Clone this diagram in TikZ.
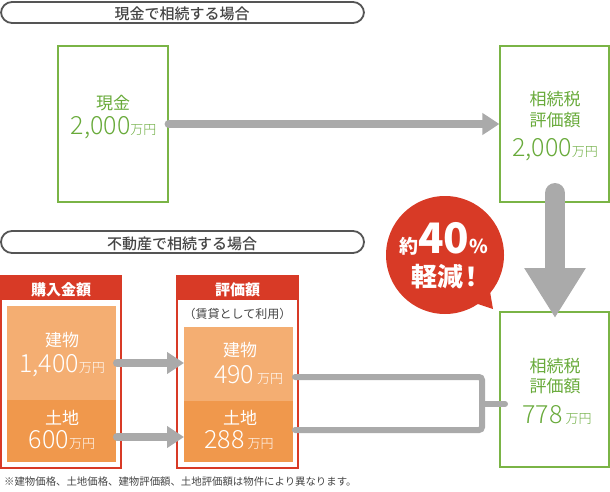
\documentclass[tikz,border=0pt]{standalone}
\usepackage{fontspec}
\setmainfont{Noto Sans CJK JP}
\IfFontExistsTF{Noto Sans CJK JP Light}{\newfontfamily\numfont{Noto Sans CJK JP Light}}{\newfontfamily\numfont{Noto Sans CJK JP}}
\IfFontExistsTF{Noto Sans CJK JP Medium}{\newfontfamily\medfont{Noto Sans CJK JP Medium}}{\newfontfamily\medfont{Noto Sans CJK JP}}
\usetikzlibrary{arrows.meta,calc}
\definecolor{grnline}{RGB}{122,180,70}
\definecolor{grntxt}{RGB}{104,170,58}
\definecolor{arrgray}{RGB}{170,170,170}
\definecolor{redc}{RGB}{216,58,38}
\definecolor{orlight}{RGB}{244,174,114}
\definecolor{ordark}{RGB}{240,152,76}
\definecolor{pillc}{RGB}{85,85,85}
\definecolor{txtgray}{RGB}{68,68,68}
\newcommand{\amt}[3]{{\numfont\fontsize{#1}{#1}\selectfont #2\fontsize{13}{13}\selectfont #3万円}}
\begin{document}
\begin{tikzpicture}[x=1pt,y=-1pt,
  pill/.style={draw=pillc,line width=1.8pt,rounded corners=11pt},
  pilltext/.style={text=txtgray,anchor=base,inner sep=0pt,font=\medfont\fontsize{15}{15}\selectfont},
  gbox/.style={draw=grnline,line width=1.2pt,inner sep=0pt},
  gtext/.style={text=grntxt,inner sep=0pt,anchor=base},
  wtext/.style={text=white,inner sep=0pt,anchor=base},
  amtnode/.style={text height=18pt,text depth=1pt},
  harrow/.style={draw=arrgray,line width=8pt,-{Triangle[length=17pt,width=21pt]}},
  link/.style={draw=arrgray,line width=6pt,line cap=round,rounded corners=3pt},
  frame/.style={draw=redc,line width=2pt},
  lbl/.style={font=\fontsize{17}{17}\selectfont},
  hdr/.style={font=\bfseries\fontsize{15}{15}\selectfont},
]
\useasboundingbox (0,0) rectangle (610,492);

% pills
\draw[pill] (1,2) rectangle (364,23);
\node[pilltext] (p1) at (182,19.5) {現金で相続する場合};
\draw[pill] (1,231) rectangle (364,253);
\node[pilltext] (p2) at (182,249) {不動産で相続する場合};

% top boxes
\node[gbox,minimum width=110pt,minimum height=156pt] (cash) at (113,124) {};
\node[gtext,lbl] (cashl) at (113,110) {現金};
\node[gtext,amtnode] (cashv) at (113.5,135) {\amt{25}{2,000}{}};

\node[gbox,minimum width=109pt,minimum height=156pt] (tax1) at (554.5,124) {};
\node[gtext,lbl] (t1a) at (555,106) {相続税};
\node[gtext,lbl] (t1b) at (555,127) {評価額};
\node[gtext,amtnode] (t1v) at (555,157) {\amt{25}{2,000}{}};

\node[gbox,minimum width=109pt,minimum height=155pt] (tax2) at (554.5,389.5) {};
\node[gtext,lbl] (t2a) at (555,372) {相続税};
\node[gtext,lbl] (t2b) at (555,392) {評価額};
\node[gtext,amtnode] (t2v) at (557,423) {\amt{25}{778}{\ }};

% top arrow
\draw[harrow,line cap=round] (cash.east) -- (tax1.west);

% left frame
\node[frame,minimum width=120pt,minimum height=192pt,inner sep=0pt] (buy) at (61,372) {};
\fill[redc] (1,276) rectangle (121,300);
\node[wtext,hdr] (buyh) at (61,295) {購入金額};
\fill[orlight] (7,306) rectangle (116,400);
\fill[ordark] (7,400) rectangle (116,462);
\node[wtext,lbl] (b1) at (62,346) {建物};
\node[wtext,amtnode] (b1v) at (62,372) {\amt{25}{1,400}{}};
\node[wtext,lbl] (l1) at (62,424) {土地};
\node[wtext,amtnode] (l1v) at (62,448) {\amt{25}{600}{}};

% middle frame
\node[frame,minimum width=121pt,minimum height=192pt,inner sep=0pt] (ev) at (237.5,372) {};
\fill[redc] (177,276) rectangle (298,300);
\node[wtext,hdr] (evh) at (237.5,295) {評価額};
\node[text=txtgray,inner sep=0pt,anchor=base,font=\fontsize{12}{12}\selectfont] (rent) at (237.5,318.5) {（賃貸として利用）};
\fill[orlight] (184,327) rectangle (293,401);
\fill[ordark] (184,401) rectangle (293,462);
\node[wtext,lbl] (b2) at (240,356) {建物};
\node[wtext,amtnode] (b2v) at (248.5,383) {\amt{25}{490}{\ }};
\node[wtext,lbl] (l2) at (240,424) {土地};
\node[wtext,amtnode] (l2v) at (239,448) {\amt{25}{288}{\ }};

% left to middle arrows
\coordinate (a1s) at (117,363);
\coordinate (a1e) at (184,363);
\coordinate (a2s) at (117,437);
\coordinate (a2e) at (184,437);
\draw[harrow,line cap=round] (a1s) -- (a1e);
\draw[harrow,line cap=round] (a2s) -- (a2e);

% connectors to result
\coordinate (c1) at (295,377);
\coordinate (c2) at (295,430);
\coordinate (j) at (482,404);
\coordinate (c3) at (505,404);
\draw[link] (c1) -- (482,377) -- (482,430) -- (c2);
\draw[link] (j) -- (c3);

% down arrow
\coordinate (d1) at (555,193);
\coordinate (d2) at (555,318);
\draw[draw=arrgray,line width=20pt,line cap=round,-{Triangle[length=50pt,width=58pt]}] (d1) -- (d2);

% bubble
\fill[redc] (445,255) circle (59pt);
\fill[redc] (466,300) -- (488,280) -- (493,309) -- cycle;
\node[wtext] (bub1) at (443.5,253) {\bfseries\fontsize{19}{19}\selectfont 約\fontsize{42}{42}\selectfont 40\fontsize{19}{19}\selectfont\%};
\node[wtext,font=\bfseries\fontsize{26}{26}\selectfont] (bub2) at (447.5,286) {軽減\hspace{-5pt}！};

% footnote
\node[anchor=base west,inner sep=0pt,text=txtgray,font=\fontsize{10.4}{10.4}\selectfont] (fn) at (4,485) {※建物価格、土地価格、建物評価額、土地評価額は物件により異なります。};
\end{tikzpicture}
\end{document}
